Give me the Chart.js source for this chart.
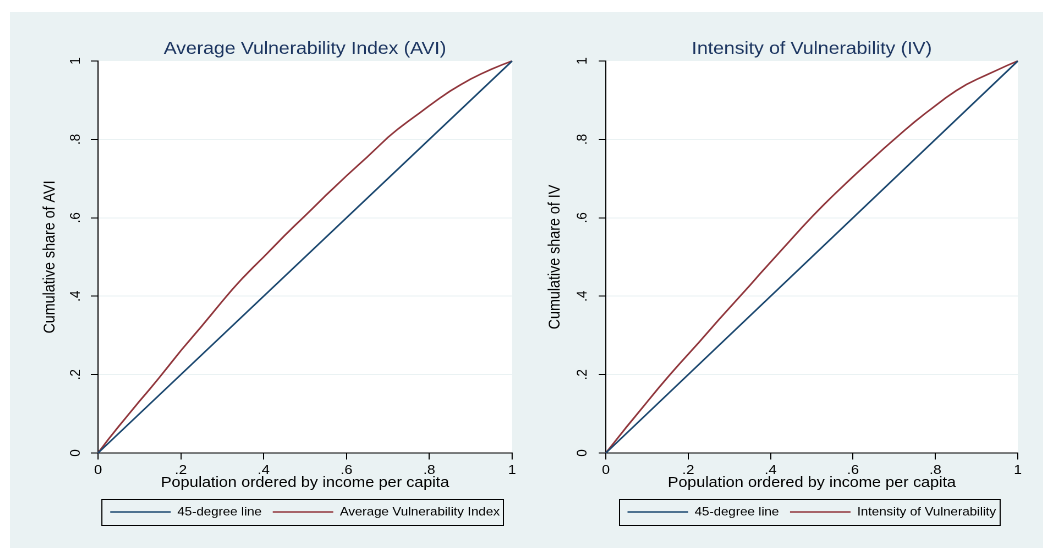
<!DOCTYPE html>
<html><head><meta charset="utf-8">
<script src="https://cdn.jsdelivr.net/npm/chart.js@4.4.1/dist/chart.umd.min.js"></script>
<style>
html,body{margin:0;padding:0;background:#fff;width:1043px;height:548px;overflow:hidden;}
#bg{position:absolute;left:10px;top:12px;width:1033px;height:536px;background:#EAF2F3;}
.wrap{position:absolute;top:12px;height:536px;transform:scaleX(1.1);transform-origin:0 0;}
#w1{left:10px;width:500px;}
#w2{left:520px;width:475px;}
</style></head><body>
<div id="bg"></div>
<div class="wrap" id="w1"><canvas id="c1" width="500" height="536"></canvas></div>
<div class="wrap" id="w2"><canvas id="c2" width="475" height="536"></canvas></div>
<script>
// Population share (x)
const popShare = [0,0.025,0.05,0.075,0.1,0.125,0.15,0.175,0.2,0.225,0.25,0.275,0.3,0.325,0.35,0.375,0.4,0.425,0.45,0.475,0.5,0.525,0.55,0.575,0.6,0.625,0.65,0.675,0.7,0.725,0.75,0.775,0.8,0.825,0.85,0.875,0.9,0.925,0.95,0.975,1];
// Cumulative share of AVI
const aviShare = [0,0.035,0.068,0.1,0.132,0.163,0.195,0.228,0.261,0.292,0.323,0.355,0.387,0.418,0.447,0.474,0.5,0.527,0.554,0.58,0.605,0.631,0.657,0.682,0.707,0.731,0.755,0.78,0.805,0.827,0.847,0.866,0.886,0.905,0.923,0.939,0.954,0.967,0.979,0.99,1];
// Cumulative share of IV
const ivShare = [0,0.033,0.066,0.098,0.13,0.162,0.193,0.223,0.252,0.281,0.311,0.341,0.37,0.399,0.428,0.458,0.487,0.516,0.545,0.574,0.602,0.629,0.655,0.68,0.705,0.729,0.753,0.777,0.8,0.823,0.845,0.866,0.886,0.906,0.924,0.94,0.953,0.965,0.977,0.989,1];
// 45-degree line
const diagX = [0,1];
const diagY = [0,1];
// ticks
const tickValues = [0,0.2,0.4,0.6,0.8,1];
const tickLabels = ['0','.2','.4','.6','.8','1'];
// texts
const panelTitles = ['Average Vulnerability Index (AVI)','Intensity of Vulnerability (IV)'];
const yTitles = ['Cumulative share of AVI','Cumulative share of IV'];
const xTitle = 'Population ordered by income per capita';
const diagName = '45-degree line';
const curveNames = ['Average Vulnerability Index','Intensity of Vulnerability'];

const NAVY = '#1A476F', MAROON = '#90353B';
const FONT = "'Liberation Sans', Arial, sans-serif";

const toPts = (xs, ys) => xs.map((x, i) => ({x: x, y: ys[i]}));

const panelPlugin = {
  id: 'panelDeco',
  beforeDraw(chart) {
    const {ctx, chartArea: a} = chart;
    ctx.save();
    ctx.fillStyle = '#ffffff';
    ctx.fillRect(a.left, a.top, a.right - a.left, a.bottom - a.top);
    ctx.restore();
  },
  afterDraw(chart) {
    const lg = chart.legend;
    if (!lg || !lg.legendHitBoxes || !lg.legendHitBoxes.length) return;
    const hb = lg.legendHitBoxes;
    let l = Infinity, r = -Infinity;
    hb.forEach(b => { l = Math.min(l, b.left); r = Math.max(r, b.left + b.width); });
    const cy = hb[0].top + hb[0].height / 2;
    const ctx = chart.ctx;
    ctx.save();
    ctx.strokeStyle = '#000';
    ctx.lineWidth = 1;
    ctx.strokeRect(Math.round(l - 8) + 0.5, Math.round(cy - 13) + 0.5, Math.round(r - l + 11), 26);
    ctx.restore();
  }
};

function makeChart(id, idx, curve, geom) {
  return new Chart(document.getElementById(id), {
    type: 'scatter',
    data: {
      datasets: [
        {label: diagName, data: toPts(diagX, diagY), showLine: true, borderColor: NAVY, backgroundColor: NAVY, borderWidth: 1.6, pointRadius: 0, clip: 3},
        {label: curveNames[idx], data: toPts(popShare, curve), showLine: true, borderColor: MAROON, backgroundColor: MAROON, borderWidth: 1.6, pointRadius: 0, clip: 3}
      ]
    },
    options: {
      responsive: false,
      animation: false,
      devicePixelRatio: 2,
      layout: {padding: {left: 0, right: geom.padRight, top: 0, bottom: 20}},
      scales: {
        x: {
          type: 'linear', min: 0, max: 1,
          afterBuildTicks: s => { s.ticks = tickValues.map(v => ({value: v})); },
          afterFit: s => { s.height = 43; },
          ticks: {callback: (v, i) => tickLabels[i], color: '#000', font: {family: FONT, size: 13.2}, padding: 3, maxRotation: 0, minRotation: 0},
          grid: {drawOnChartArea: false, tickLength: 6.5, tickColor: '#000', tickWidth: 1},
          border: {display: true, color: '#000', width: 1},
          title: {display: true, text: xTitle, color: '#000', font: {family: FONT, size: 14.6}, padding: {top: 0, bottom: 4.2}}
        },
        y: {
          type: 'linear', min: 0, max: 1,
          afterBuildTicks: s => { s.ticks = tickValues.map(v => ({value: v})); },
          afterFit: s => { s.width = geom.plotLeft; },
          ticks: {callback: (v, i) => tickLabels[i], color: '#000', font: {family: FONT, size: 13.2}, padding: geom.tickPad, minRotation: 90, maxRotation: 90, crossAlign: 'center'},
          grid: {
            color: c => (c.tick && c.tick.value > 0 && c.tick.value < 1) ? '#EAF2F3' : 'rgba(0,0,0,0)',
            lineWidth: 1, tickLength: 6.5, tickColor: '#000', tickWidth: 1
          },
          border: {display: true, color: '#000', width: 1},
          title: {display: true, text: yTitles[idx], color: '#000', font: {family: FONT, size: 14.3}, padding: {top: geom.yTitlePad, bottom: 0}}
        }
      },
      plugins: {
        title: {display: true, fullSize: false, text: panelTitles[idx], color: '#1C3560', font: {family: FONT, size: 17.6, weight: 'normal'}, padding: {top: 26.4, bottom: 1.5}},
        legend: {
          display: true, position: 'bottom', fullSize: false,
          labels: {usePointStyle: true, pointStyle: 'line', pointStyleWidth: 55, padding: 10, color: '#000', font: {family: FONT, size: 12}}
        },
        tooltip: {enabled: false}
      }
    },
    plugins: [panelPlugin]
  });
}

makeChart('c1', 0, aviShare, {plotLeft: 80, padRight: 43.6, tickPad: 8, yTitlePad: 28});
makeChart('c2', 1, ivShare, {plotLeft: 78, padRight: 22.5, tickPad: 9, yTitlePad: 23.4});
</script>
</body></html>
